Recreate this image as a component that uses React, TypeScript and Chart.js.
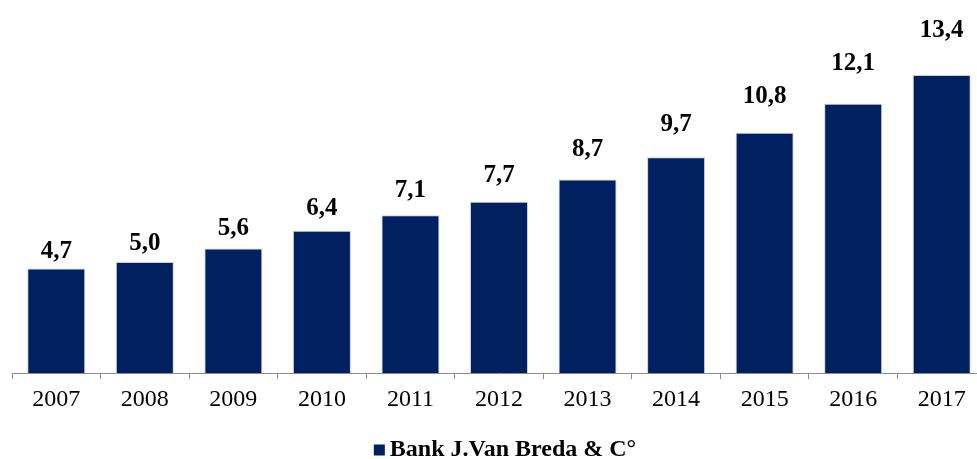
import React, { useEffect, useRef } from "react";
import { Chart, registerables } from "chart.js";

Chart.register(...registerables);

const years = ["2007", "2008", "2009", "2010", "2011", "2012", "2013", "2014", "2015", "2016", "2017"];
const values = [4.7, 5.0, 5.6, 6.4, 7.1, 7.7, 8.7, 9.7, 10.8, 12.1, 13.4];
const seriesName = "Bank J.Van Breda & C°";
const yMin = 0;
const yMax = 16;

const SERIF = "'Liberation Serif', 'Times New Roman', serif";
const BAR_COLOR = "#002060";

const valueLabels = {
  id: "valueLabels",
  afterDatasetsDraw(chart: any) {
    const { ctx } = chart;
    const meta = chart.getDatasetMeta(0);
    const yScale = chart.scales.y;
    ctx.save();
    ctx.font = `bold 25px ${SERIF}`;
    ctx.fillStyle = "#000";
    ctx.textAlign = "center";
    ctx.textBaseline = "middle";
    meta.data.forEach((bar: any, i: number) => {
      const v = values[i];
      const y = yScale.getPixelForValue(v * 1.143) - 2;
      ctx.fillText(v.toFixed(1).replace(".", ","), bar.x, y);
    });
    ctx.restore();
  },
};

const customLegend = {
  id: "customLegend",
  afterDraw(chart: any) {
    const { ctx, chartArea } = chart;
    ctx.save();
    ctx.font = `bold 24px ${SERIF}`;
    const text = seriesName;
    const tw = ctx.measureText(text).width;
    const box = 11;
    const gap = 5;
    const total = box + gap + tw;
    const cx = (chartArea.left + chartArea.right) / 2 + 6;
    const x0 = cx - total / 2;
    const cy = 450;
    ctx.fillStyle = BAR_COLOR;
    ctx.fillRect(x0, cy - box / 2, box, box);
    ctx.fillStyle = "#000";
    ctx.textAlign = "left";
    ctx.textBaseline = "middle";
    ctx.fillText(text, x0 + box + gap, cy);
    ctx.restore();
  },
};

export default function App() {
  const ref = useRef<HTMLCanvasElement>(null);
  useEffect(() => {
    if (!ref.current) return;
    const chart = new Chart(ref.current, {
      type: "bar",
      data: {
        labels: years,
        datasets: [
          {
            label: seriesName,
            data: values,
            backgroundColor: BAR_COLOR,
            borderColor: "#c8cde0",
            borderWidth: 1,
            barPercentage: 0.655,
            categoryPercentage: 1,
          },
        ],
      },
      options: {
        animation: false,
        responsive: false,
        maintainAspectRatio: false,
        layout: { padding: { left: 12, right: 4, top: 17, bottom: 39 } },
        plugins: {
          legend: { display: false },
          tooltip: { enabled: false },
        },
        scales: {
          x: {
            offset: true,
            grid: {
              offset: true,
              drawOnChartArea: false,
              drawTicks: true,
              tickLength: 6,
              color: "#8c8c8c",
            },
            border: { display: true, color: "#8c8c8c", width: 1 },
            ticks: {
              font: { family: SERIF, size: 24 },
              color: "#000",
              padding: 6,
              maxRotation: 0,
              autoSkip: false,
            },
          },
          y: {
            display: false,
            min: yMin,
            max: yMax,
          },
        },
      },
      plugins: [valueLabels, customLegend],
    });
    return () => chart.destroy();
  }, []);
  return (
    <div
      style={{
        position: "fixed",
        left: 0,
        top: 0,
        width: 977,
        height: 459,
        overflow: "hidden",
        background: "#fff",
      }}
    >
      <canvas ref={ref} width={990} height={459} style={{ width: 990, height: 459, display: "block" }} />
    </div>
  );
}
